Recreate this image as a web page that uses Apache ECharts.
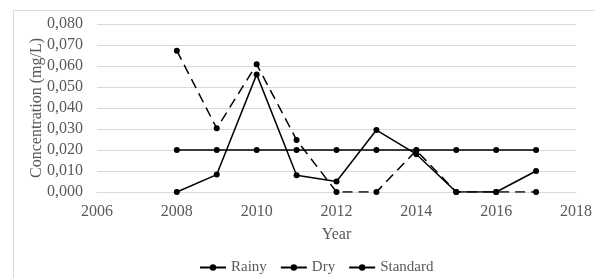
<!DOCTYPE html>
<html>
<head>
<meta charset="utf-8">
<script src="https://cdn.jsdelivr.net/npm/echarts@6/dist/echarts.min.js"></script>
<style>
  html, body { margin: 0; padding: 0; background: #fff; }
  #chart { width: 595px; height: 278px; }
</style>
</head>
<body>
<div id="chart"></div>
<script>
// years on the x axis
const years = [2008, 2009, 2010, 2011, 2012, 2013, 2014, 2015, 2016, 2017];
// concentrations in mg/L
const rainy = [0.000, 0.0083, 0.056, 0.008, 0.005, 0.0295, 0.018, 0.000, 0.000, 0.010];
const dry = [0.0673, 0.0303, 0.0608, 0.0248, 0.000, 0.000, 0.0198, 0.000, 0.000, 0.000];
const standard = [0.02, 0.02, 0.02, 0.02, 0.02, 0.02, 0.02, 0.02, 0.02, 0.02];

const textColor = '#595959';
const font = 'Liberation Serif';
const fs = 16;

function pairs(vals) {
    return years.map((y, i) => [y, vals[i]]);
}

function lineSeries(name, vals, dashed) {
    return {
        name: name,
        type: 'line',
        data: pairs(vals),
        symbol: 'circle',
        symbolSize: 6,
        itemStyle: { color: '#000' },
        lineStyle: { color: '#000', width: 1.5, type: dashed ? [10, 6] : 'solid' },
        emphasis: { disabled: true },
        animation: false
    };
}

const chart = echarts.init(document.getElementById('chart'));
chart.setOption({
    backgroundColor: '#fff',
    textStyle: { fontFamily: font },
    graphic: [{
        type: 'rect',
        shape: { x: 13.5, y: 10.5, width: 600, height: 300 },
        style: { fill: 'none', stroke: '#d9d9d9', lineWidth: 1 },
        silent: true
    }],
    grid: { left: 97, right: 18, top: 24, bottom: 86 },
    xAxis: {
        type: 'value',
        min: 2006,
        max: 2018,
        interval: 2,
        name: 'Year',
        nameLocation: 'middle',
        nameGap: 35,
        nameTextStyle: { color: textColor, fontSize: fs, fontFamily: font },
        axisLine: { show: true, lineStyle: { color: '#d9d9d9' } },
        axisTick: { show: false },
        splitLine: { show: false },
        axisLabel: {
            color: textColor, fontSize: fs, fontFamily: font, margin: 12,
            formatter: v => String(v)
        }
    },
    yAxis: {
        type: 'value',
        min: 0,
        max: 0.08,
        interval: 0.01,
        name: 'Concentration (mg/L)',
        nameLocation: 'middle',
        nameGap: 52,
        nameMoveOverlap: false,
        nameTextStyle: { color: textColor, fontSize: fs, fontFamily: font },
        axisLine: { show: false },
        axisTick: { show: false },
        splitLine: { lineStyle: { color: '#d9d9d9', width: 1 } },
        axisLabel: {
            color: textColor, fontSize: fs, fontFamily: font, margin: 14,
            formatter: v => v.toFixed(3).replace('.', ',')
        }
    },
    legend: {
        top: 255,
        left: 194,
        itemWidth: 26,
        itemHeight: 8,
        itemGap: 13,
        textStyle: { color: textColor, fontSize: 15, fontFamily: font },
        data: [
            { name: 'Rainy' },
            { name: 'Dry', lineStyle: { type: 'solid' } },
            { name: 'Standard' }
        ]
    },
    series: [
        lineSeries('Rainy', rainy, false),
        lineSeries('Dry', dry, true),
        lineSeries('Standard', standard, false)
    ]
});
</script>
</body>
</html>
